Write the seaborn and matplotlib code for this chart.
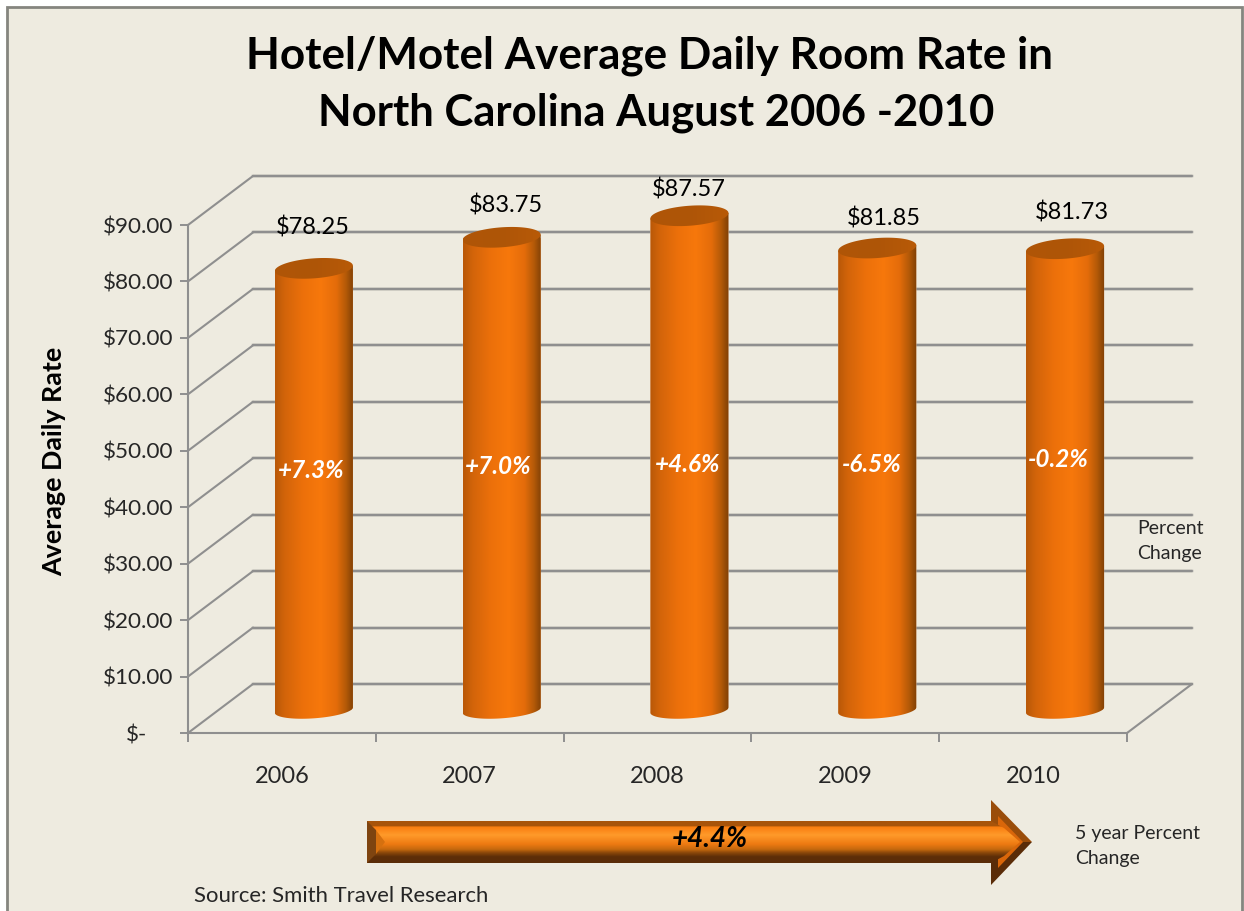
import numpy as np
import pandas as pd
import seaborn as sns
import matplotlib.pyplot as plt
import matplotlib.patheffects as pe
from matplotlib.colors import LinearSegmentedColormap
from matplotlib.patches import Polygon, Rectangle
from matplotlib.transforms import ScaledTranslation

years = ['2006', '2007', '2008', '2009', '2010']
rates = [78.25, 83.75, 87.57, 81.85, 81.73]
rate_labels = ['$78.25', '$83.75', '$87.57', '$81.85', '$81.73']
pct_labels = ['+7.3%', '+7.0%', '+4.6%', '-6.5%', '-0.2%']
y_ticks = [0, 10, 20, 30, 40, 50, 60, 70, 80, 90]
y_tick_labels = ['$-', '$10.00', '$20.00', '$30.00', '$40.00', '$50.00',
                 '$60.00', '$70.00', '$80.00', '$90.00']
# hand placed labels in the original, offset from the bar top / bar centre (pixels)
rate_off = [(-1, 41), (4, 32), (-1, 26), (7, 30), (7, 36)]
pct_off_x = [-3, -3, -2, -5, -7]
pct_y = [46.5, 47.2, 47.6, 47.6, 48.5]

BG = '#EEEBE0'
GRID = '#8F8F8F'
W, H = 1244, 911

sns.set_theme(style='white')
plt.rcParams['font.family'] = ['Lato', 'DejaVu Sans']

fig = plt.figure(figsize=(W / 100, H / 100), dpi=100, facecolor='white')

# page layer in pixel coordinates (frame, arrow, free text)
page = fig.add_axes([0, 0, 1, 1], zorder=0)
page.set_xlim(0, W)
page.set_ylim(H, 0)
page.axis('off')
page.add_patch(Rectangle((7, 7), 1235, 950, facecolor=BG, edgecolor='#85857F', lw=2))

ax = fig.add_axes([188 / W, (H - 733) / H, 939 / W, 508 / H], zorder=1)
ax.patch.set_alpha(0)

df = pd.DataFrame({'year': years, 'rate': rates})
sns.barplot(data=df, x='year', y='rate', width=0.416, color='#EC700A', saturation=1, ax=ax, zorder=3)
ax.set_xlim(-0.5, 4.5)
ax.set_ylim(0, 90)

# fake 3d depth of the chart box
depth_x = 65 / 187.8
depth_y = 49 / 5.644
x0, x1 = -0.5, 4.5
halo = [pe.withStroke(linewidth=2.8, foreground='#D6D4CA')]
for v in y_ticks:
    ax.plot([x0 + depth_x, x1 + depth_x], [v + depth_y, v + depth_y], color=GRID, lw=1.6,
            clip_on=False, zorder=1, path_effects=halo)
    ax.plot([x0, x0 + depth_x], [v, v + depth_y], color=GRID, lw=1.5, clip_on=False, zorder=1)
ax.plot([x1, x1 + depth_x], [0, depth_y], color=GRID, lw=1.5, clip_on=False, zorder=1)

# cylinders
body_cmap = LinearSegmentedColormap.from_list('body', [
    (0, '#B85808'), (0.12, '#D2640A'), (0.35, '#EC700A'), (0.58, '#F7780C'),
    (0.78, '#E46C0A'), (0.9, '#B45A08'), (1, '#7E3F06')])
top_cmap = LinearSegmentedColormap.from_list('top', ['#B05607', '#AE5507', '#B85A08'])
t = np.linspace(0, 2 * np.pi, 120)
bar_dx = 0.17
bar_dy = 4.07
half_h = 10 / 5.644
base_h = 8.3 / 5.644
tilt = 2.7 / 5.644

for i, bar in enumerate(ax.patches):
    bar.set_x(bar.get_x() + bar_dx)
    bar.set_y(bar_dy)
    left = bar.get_x()
    wid = bar.get_width()
    cx = left + wid / 2
    base = bar_dy
    top = bar_dy + bar.get_height()
    a = wid / 2
    # lower half of the base ellipse then upper half of the top ellipse
    low = np.linspace(np.pi, 2 * np.pi, 60)
    up = np.linspace(0, np.pi, 60)
    px = np.r_[cx + a * np.cos(low), cx + a * np.cos(up)]
    py = np.r_[base + base_h * np.sin(low) + tilt * np.cos(low),
               top + tilt * np.cos(up)]
    outline = Polygon(np.c_[px, py], transform=ax.transData)
    bar.set_clip_path(outline)
    bar.set_clip_box(fig.bbox)
    im = ax.imshow(np.linspace(0, 1, 256)[None, :], cmap=body_cmap, aspect='auto', zorder=4,
                   extent=(left, left + wid, base - 4, top + 4))
    im.set_clip_path(outline)
    im.set_clip_box(fig.bbox)
    cap = Polygon(np.c_[cx + a * np.cos(t), top + half_h * np.sin(t) + tilt * np.cos(t)],
                  transform=ax.transData)
    imc = ax.imshow(np.linspace(0, 1, 64)[None, :], cmap=top_cmap, aspect='auto', zorder=5,
                    extent=(left, left + wid, top - 4, top + 4))
    imc.set_clip_path(cap)
    imc.set_clip_box(fig.bbox)
    ax.annotate(rate_labels[i], (cx, top), xytext=rate_off[i], textcoords='offset pixels',
                ha='center', va='center', fontsize=17, color='black', zorder=6, annotation_clip=False)
    ax.annotate(pct_labels[i], (cx, pct_y[i]), xytext=(pct_off_x[i], 0), textcoords='offset pixels',
                ha='center', va='center', fontsize=17.5, color='white', fontweight='bold',
                fontstyle='italic', zorder=6)

ax.set_xlim(-0.5, 4.5)
ax.set_ylim(0, 90)

ax.set_yticks(y_ticks)
ax.set_yticklabels(y_tick_labels)
ax.set_xticks(range(len(years)))
ax.set_xticks(np.arange(-0.5, 5), minor=True)
ax.tick_params(axis='y', length=5.8, width=1.4, color=GRID, labelsize=16.2, pad=5, left=True)
ax.tick_params(axis='x', which='major', length=0, labelsize=17, pad=24)
ax.tick_params(axis='x', which='minor', length=6.5, width=1.4, color=GRID, bottom=True)
# the accounting format leaves a gap right of the dash
zero_lab = ax.get_yticklabels()[0]
zero_lab.set_transform(zero_lab.get_transform() + ScaledTranslation(-26 / 100, 0, fig.dpi_scale_trans))
for s in ['top', 'right']:
    ax.spines[s].set_visible(False)
for s in ['left', 'bottom']:
    ax.spines[s].set_color(GRID)
    ax.spines[s].set_linewidth(1.5)

ax.set_xlabel('')
ax.set_ylabel('Average Daily Rate', fontsize=19.4, fontweight='bold', color='black')
ax.yaxis.set_label_coords((66 - 188) / 939, (733 - 461) / 508)

# page text
page.text(650, 56, 'Hotel/Motel Average Daily Room Rate in', ha='center', va='center',
          fontsize=31.7, fontweight='bold', color='black')
page.text(656, 113, 'North Carolina August 2006 -2010', ha='center', va='center',
          fontsize=31.4, fontweight='bold', color='black')
page.text(1137, 541, 'Percent\nChange', ha='left', va='center', fontsize=14, linespacing=1.55)
page.text(1075, 846, '5 year Percent\nChange', ha='left', va='center', fontsize=14, linespacing=1.55)
page.text(194, 896, 'Source: Smith Travel Research', ha='left', va='center', fontsize=15.9)

# big bevelled arrow
band_cmap = LinearSegmentedColormap.from_list('band', [
    (0, '#A8540A'), (0.12, '#A8540A'), (0.13, '#F97C0E'), (0.33, '#FF9A2A'),
    (0.55, '#EE7A12'), (0.68, '#C4680E'), (0.75, '#8F4A0A'), (0.85, '#5E2E08'), (1, '#5A2C08')])
for pts, col in [
    ([(991, 800), (1032, 842), (991, 842)], '#9A4D0A'),
    ([(991, 885), (1032, 842), (991, 842)], '#5A2C08'),
    ([(998, 816), (1023, 842), (998, 868)], '#D9660A'),
]:
    page.add_patch(Polygon(pts, facecolor=col, edgecolor='none', zorder=1.5))
shaft = Polygon([(367, 821), (991, 821), (1004, 828), (1020, 842), (1004, 856), (991, 863), (367, 863)],
                transform=page.transData)
img = page.imshow(np.linspace(0, 1, 128)[:, None], cmap=band_cmap, aspect='auto',
                  extent=(367, 1030, 863, 821), zorder=2)
img.set_clip_path(shaft)
page.set_xlim(0, W)
page.set_ylim(H, 0)
for pts, col in [
    ([(367, 821), (376, 830), (376, 854), (367, 863)], '#7E4410'),
    ([(376, 830), (385, 842), (376, 854)], '#D5700F'),
]:
    page.add_patch(Polygon(pts, facecolor=col, edgecolor='none', zorder=3))
page.text(710, 839, '+4.4%', ha='center', va='center', fontsize=20, fontweight='bold',
          fontstyle='italic', color='black', zorder=4)

fig.savefig('out.png', dpi=100, facecolor='white')
